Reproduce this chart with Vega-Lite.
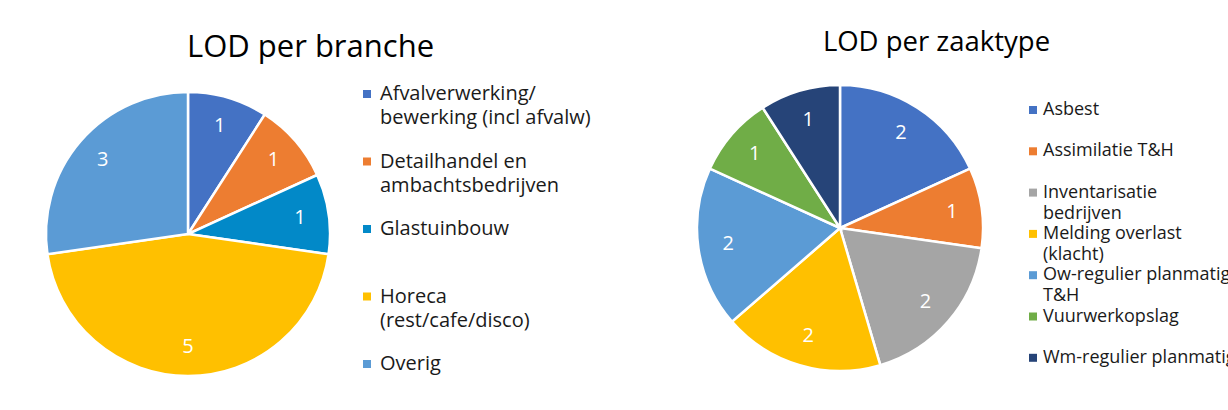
{
  "$schema": "https://vega.github.io/schema/vega-lite/v6.json",
  "padding": {"left": 30, "top": 28, "right": 0, "bottom": 0},
  "background": "white",
  "config": {
    "font": "Open Sans",
    "view": {"stroke": null},
    "title": {"font": "Open Sans", "fontWeight": "normal", "color": "#000000", "frame": "bounds", "anchor": "middle"},
    "legend": {"labelFont": "Open Sans", "labelColor": "#1a1a1a", "symbolType": "square", "symbolSize": 64, "symbolStrokeWidth": 0, "title": null}
  },
  "hconcat": [
    {
      "title": {"text": "LOD per branche", "fontSize": 31, "offset": 20, "frame": "bounds"},
      "width": 316,
      "height": 300,
      "data": {"values": [
        {"nr": 1, "branche": "Afvalverwerking/|bewerking (incl afvalw)", "aantal": 1},
        {"nr": 2, "branche": "Detailhandel en|ambachtsbedrijven", "aantal": 1},
        {"nr": 3, "branche": "Glastuinbouw", "aantal": 1},
        {"nr": 4, "branche": "Horeca|(rest/cafe/disco)", "aantal": 5},
        {"nr": 5, "branche": "Overig", "aantal": 3}
      ]},
      "encoding": {
        "theta": {"field": "aantal", "type": "quantitative", "stack": true},
        "order": {"field": "nr", "type": "quantitative"},
        "color": {
          "field": "branche", "type": "nominal",
          "scale": {
            "domain": ["Afvalverwerking/|bewerking (incl afvalw)", "Detailhandel en|ambachtsbedrijven", "Glastuinbouw", "Horeca|(rest/cafe/disco)", "Overig"],
            "range": ["#4472C4", "#ED7D31", "#0289C8", "#FFC000", "#5B9BD5"]
          },
          "legend": {
            "labelExpr": "split(datum.label, '|')",
            "labelFontSize": 20,
            "labelLimit": 300,
            "labelOffset": 3,
            "offset": 11,
            "gridAlign": "all",
            "rowPadding": 23.5,
            "encode": {"labels": {"update": {"lineHeight": {"value": 24}}}}
          }
        }
      },
      "layer": [
        {"mark": {"type": "arc", "outerRadius": 142, "stroke": "white", "strokeWidth": 2.5}},
        {"mark": {"type": "text", "radius": 113, "fontSize": 20, "fill": "white", "font": "Open Sans"},
         "encoding": {"text": {"field": "aantal", "type": "quantitative"}}}
      ]
    },
    {
      "title": {"text": "LOD per zaaktype", "fontSize": 27.5, "offset": 20, "frame": "bounds", "dx": -25, "dy": -4},
      "width": 340,
      "height": 288,
      "data": {"values": [
        {"nr": 1, "zaaktype": "Asbest", "aantal": 2},
        {"nr": 2, "zaaktype": "Assimilatie T&H", "aantal": 1},
        {"nr": 3, "zaaktype": "Inventarisatie|bedrijven", "aantal": 2},
        {"nr": 4, "zaaktype": "Melding overlast|(klacht)", "aantal": 2},
        {"nr": 5, "zaaktype": "Ow-regulier planmatig|T&H", "aantal": 2},
        {"nr": 6, "zaaktype": "Vuurwerkopslag", "aantal": 1},
        {"nr": 7, "zaaktype": "Wm-regulier planmatig", "aantal": 1}
      ]},
      "encoding": {
        "theta": {"field": "aantal", "type": "quantitative", "stack": true},
        "order": {"field": "nr", "type": "quantitative"},
        "color": {
          "field": "zaaktype", "type": "nominal",
          "scale": {
            "domain": ["Asbest", "Assimilatie T&H", "Inventarisatie|bedrijven", "Melding overlast|(klacht)", "Ow-regulier planmatig|T&H", "Vuurwerkopslag", "Wm-regulier planmatig"],
            "range": ["#4472C4", "#ED7D31", "#A5A5A5", "#FFC000", "#5B9BD5", "#70AD47", "#264478"]
          },
          "legend": {
            "labelExpr": "split(datum.label, '|')",
            "labelFontSize": 18,
            "labelLimit": 300,
            "labelOffset": 1,
            "offset": -3,
            "padding": 17,
            "gridAlign": "all",
            "rowPadding": 2.3,
            "encode": {"labels": {"update": {"lineHeight": {"value": 21}}}}
          }
        }
      },
      "layer": [
        {"mark": {"type": "arc", "outerRadius": 143, "stroke": "white", "strokeWidth": 2.5}},
        {"mark": {"type": "text", "radius": 113, "fontSize": 20, "fill": "white", "font": "Open Sans"},
         "encoding": {"text": {"field": "aantal", "type": "quantitative"}}}
      ]
    }
  ],
  "resolve": {"scale": {"color": "independent", "theta": "independent"}, "legend": {"color": "independent"}},
  "spacing": 79
}
